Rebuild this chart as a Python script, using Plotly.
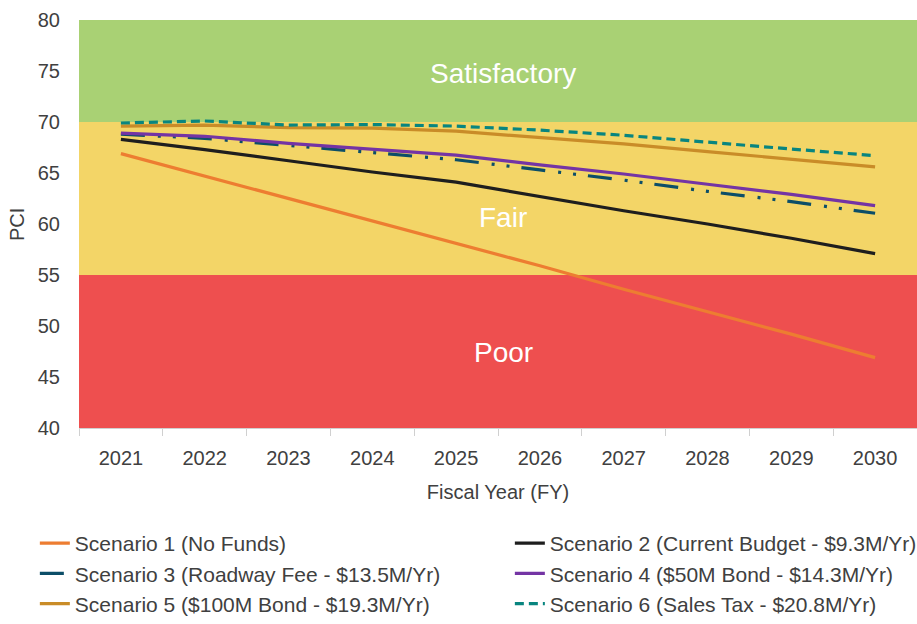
import plotly.graph_objects as go

years = ["2021", "2022", "2023", "2024", "2025", "2026", "2027", "2028", "2029", "2030"]

s1_no_funds = [66.9, 64.7, 62.5, 60.3, 58.1, 55.9, 53.6, 51.4, 49.2, 46.9]
s2_current = [68.3, 67.3, 66.2, 65.1, 64.1, 62.7, 61.3, 60.0, 58.6, 57.1]
s3_roadway = [68.8, 68.4, 67.7, 67.0, 66.3, 65.3, 64.3, 63.2, 62.2, 61.05]
s4_bond50 = [68.9, 68.6, 67.9, 67.3, 66.75, 65.8, 64.9, 63.9, 62.9, 61.8]
s5_bond100 = [69.6, 69.7, 69.45, 69.4, 69.1, 68.5, 67.85, 67.1, 66.35, 65.6]
s6_sales = [69.9, 70.1, 69.7, 69.75, 69.6, 69.2, 68.7, 68.0, 67.35, 66.7]

names = [
    "Scenario 1 (No Funds)",
    "Scenario 2 (Current Budget - $9.3M/Yr)",
    "Scenario 3 (Roadway Fee - $13.5M/Yr)",
    "Scenario 4 ($50M Bond - $14.3M/Yr)",
    "Scenario 5 ($100M Bond - $19.3M/Yr)",
    "Scenario 6 (Sales Tax - $20.8M/Yr)",
]

zones = [(40, 55, "#EE4F4F", "Poor", 47.4), (55, 70, "#F3D567", "Fair", 60.6), (70, 80, "#A9D174", "Satisfactory", 74.8)]

series = [s1_no_funds, s2_current, s3_roadway, s4_bond50, s5_bond100, s6_sales]
colors = ["#ED7D31", "#1E1E1E", "#0C4E68", "#7434A4", "#C98C28", "#08857F"]
dashes = ["solid", "solid", "24px,13px,3px,12px,3px,12px", "solid", "solid", "9px,5px"]
legend_ids = ["legend", "legend2", "legend", "legend2", "legend", "legend2"]

FONT = "Liberation Sans, Arial, sans-serif"

fig = go.Figure()
for i, (name, vals, c, d, lg) in enumerate(zip(names, series, colors, dashes, legend_ids)):
    fig.add_trace(go.Scatter(x=years, y=vals, name=name, mode="lines", legend=lg,
                             legendgroup=f"g{i}",
                             line=dict(color=c, width=3.2, dash=d)))

shapes = []
annotations = []
for lo, hi, col, label, ly in zones:
    shapes.append(dict(type="rect", xref="paper", yref="y", x0=0, x1=1, y0=lo, y1=hi,
                       fillcolor=col, line=dict(width=0), layer="below"))
    annotations.append(dict(x=0.506, y=ly, xref="paper", yref="y", text=label, showarrow=False,
                            font=dict(family=FONT, size=28, color="white")))

# y-axis title as rotated annotation
annotations.append(dict(x=-0.074, y=0.5, xref="paper", yref="paper", text="PCI", showarrow=False,
                        textangle=-90, xanchor="center", yanchor="middle",
                        font=dict(family=FONT, size=20, color="#404040")))

leg_common = dict(orientation="v", xref="container", yref="container", y=0.162,
                  xanchor="left", yanchor="top", tracegroupgap=3,
                  font=dict(family=FONT, size=21, color="#404040"), traceorder="normal",
                  bgcolor="rgba(0,0,0,0)")

fig.update_layout(
    width=917, height=624,
    margin=dict(l=79, r=0, t=20, b=196, autoexpand=False),
    paper_bgcolor="white", plot_bgcolor="white",
    font=dict(family=FONT, size=20, color="#404040"),
    shapes=shapes, annotations=annotations,
    showlegend=True,
    legend=dict(x=0.038, **leg_common),
    legend2=dict(x=0.556, **leg_common),
)
fig.update_xaxes(type="category", range=[-0.5, 9.5], tickson="boundaries", ticks="outside", ticklen=7,
                 tickcolor="#D0D0D0", showline=True, linecolor="#D0D0D0", linewidth=1,
                 showgrid=False, ticklabelstandoff=12, automargin=False,
                 title=dict(text="Fiscal Year (FY)", standoff=16, font=dict(size=20)),
                 tickfont=dict(size=20))
fig.update_yaxes(range=[40, 80], dtick=5, showgrid=False, zeroline=False, showline=False,
                 ticks="", ticklabelstandoff=18, automargin=False,
                 tickfont=dict(size=20))

fig.write_html("out.html", config={"responsive": False, "displayModeBar": False},
               post_script="document.body.style.margin='0';document.body.style.overflow='hidden';")
